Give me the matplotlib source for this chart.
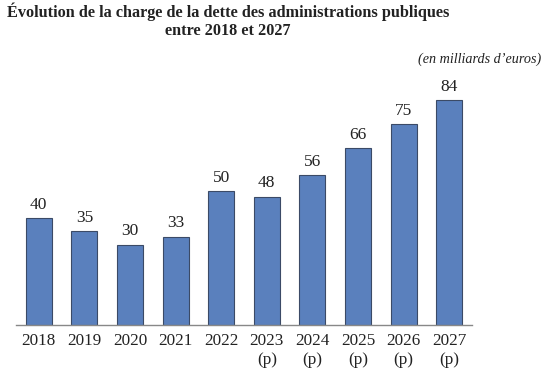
import matplotlib
matplotlib.use("Agg")
import matplotlib.pyplot as plt

# data
years = ["2018", "2019", "2020", "2021", "2022", "2023\n(p)", "2024\n(p)", "2025\n(p)", "2026\n(p)", "2027\n(p)"]
charge = [40, 35, 30, 33, 50, 48, 56, 66, 75, 84]

plt.rcParams['font.family'] = ['Liberation Serif', 'DejaVu Serif']

fig = plt.figure(figsize=(5.55, 3.7), dpi=100)
ax = fig.add_axes([0.0288, 0.1216, 0.8216, 0.651])

x = list(range(len(years)))
bars = ax.bar(x, charge, width=0.57, color='#5a80bd', edgecolor='#3b4a66', linewidth=0.8)

for xi, v in zip(x, charge):
    ax.text(xi, v + 2, str(v), ha='center', va='bottom', fontsize=12.5, color='#222222')

ax.set_xlim(-0.5, len(years) - 0.5)
ax.set_ylim(0, 90)
ax.set_yticks([])
ax.set_xticks(x)
ax.set_xticklabels(years, fontsize=12.3, color='#222222', linespacing=1.2)
ax.tick_params(axis='x', length=0, pad=6)

for s in ['top', 'right', 'left']:
    ax.spines[s].set_visible(False)
ax.spines['bottom'].set_color('#888888')
ax.spines['bottom'].set_linewidth(1.0)

fig.text(0.411, 0.993, "Évolution de la charge de la dette des administrations publiques\nentre 2018 et 2027",
         ha='center', va='top', fontsize=11.7, fontweight='bold', color='#222222', linespacing=1.15)
fig.text(0.975, 0.84, "(en milliards d\u2019euros)", ha='right', va='center', fontsize=10.2,
         style='italic', color='#222222')

fig.savefig("out.png", dpi=100)
